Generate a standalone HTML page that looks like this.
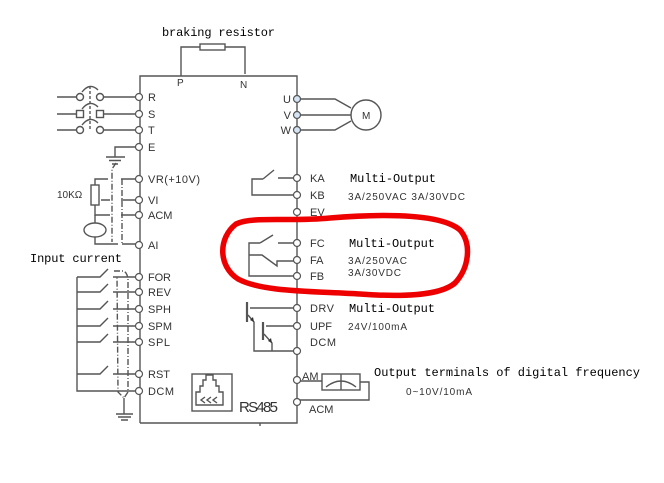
<!DOCTYPE html>
<html><head><meta charset="utf-8"><style>
html,body{margin:0;padding:0;background:#fff;}
svg{display:block;}
.s{font-family:"Liberation Sans",sans-serif;font-size:11px;fill:#333;}
.m{font-family:"Liberation Mono",monospace;font-size:12px;fill:#000;}
.sm{font-family:"Liberation Sans",sans-serif;font-size:10px;fill:#333;}
</style></head><body>
<svg width="664" height="483" viewBox="0 0 664 483" xmlns="http://www.w3.org/2000/svg">
<g fill="none" stroke="#555" stroke-width="1.4">
<!-- main box -->
<path d="M140,423 L140,76 L297,76 L297,423 L140,423"/>
<path d="M260,423 L260,426"/>
<!-- braking resistor -->
<path d="M181,76 L181,47 L200,47 M225,47 L245,47 L245,74"/>
<rect x="200" y="44" width="25" height="6"/>
<!-- R S T inputs -->
<path d="M57,97 L76,97 M104,97 L136,97"/>
<path d="M57,114 L76,114 M104,114 L136,114"/>
<path d="M57,130 L76,130 M104,130 L136,130"/>
<circle cx="80" cy="97" r="3.5"/><circle cx="100" cy="97" r="3.5"/>
<rect x="76.5" y="110.5" width="7" height="7"/><rect x="96.5" y="110.5" width="7" height="7"/>
<circle cx="80" cy="130" r="3.5"/><circle cx="100" cy="130" r="3.5"/>
<path d="M82,92 Q90,82 98,90 M82,109 Q90,99 98,107 M82,125 Q90,115 98,123"/>
<path d="M90,86 L90,130" stroke-dasharray="3,2"/>
<!-- E ground -->
<path d="M136,147 L115,147 L115,157 M106,157 L125,157 M109,160.5 L121,160.5 M112,164 L118,164"/>
<!-- analog -->
<path d="M95,185 L95,179 L108,179 M121,179 L136,179"/>
<rect x="91" y="185" width="8" height="20"/>
<path d="M110,200 L101,200 M121,200 L136,200"/>
<path d="M95,205 L95,215 L110,215 M121,215 L136,215"/>
<path d="M95,215 L95,223"/>
<ellipse cx="95" cy="230" rx="11" ry="7"/>
<path d="M95,237 L95,244 L118,244 M122,244 L136,244"/>
<path d="M116,163 L112,169 L112,242 M122,179 L122,244" stroke-dasharray="6,2,1,2"/>
<!-- digital inputs -->
<path d="M77,277 L77,391 L136,391"/>
<path d="M77,277 L100,277 L108,269 M113,277 L136,277"/>
<path d="M77,292 L100,292 L108,284 M113,292 L136,292"/>
<path d="M77,309 L100,309 L108,301 M113,309 L136,309"/>
<path d="M77,326 L100,326 L108,318 M113,326 L136,326"/>
<path d="M77,342 L100,342 L108,334 M113,342 L136,342"/>
<path d="M77,374 L100,374 L108,366 M113,374 L136,374"/>
<path d="M114,271 L123,271 Q127,272 128,279 L128,392 L124,398 L118,392 L117,276" stroke-dasharray="6,2,1,2"/>
<path d="M124,398 L124,414 M116,414 L133,414 M118,417 L131,417 M121,420 L128,420"/>
<!-- U V W motor -->
<path d="M300,99 L335,99 L351,108 M300,115 L351,115 M300,130 L335,130 L351,121"/>
<circle cx="366" cy="115" r="15"/>
<!-- KA KB -->
<path d="M294,178 L278,178 M263,179 L274,170 M263,179 L252,179 L252,195 L294,195"/>
<!-- FC FA FB -->
<path d="M294,243 L278,243 M260,243 L273,235 M260,243 L249,243 L249,276 L294,276 M249,255 L262,255 L277,266 L277,261 L294,261"/>
<!-- transistors -->
<path d="M250,308 L294,308 M248,315 L254,322 L254,351 L294,351"/>
<path d="M266,326 L294,326 M264,334 L272,343 L272,351"/>
<path d="M247,302 L247,322 M263,322 L263,340" stroke-width="2.2"/>
<!-- AM meter -->
<path d="M300,381 L322,381 M360,382 L369,382 L369,400 L300,400"/>
<rect x="322" y="374" width="38" height="16"/>
<path d="M341,374 L341,390 M326,387 Q341,375 356,387"/>
<!-- RS485 -->
<rect x="192" y="374" width="40" height="37"/>
<path d="M196,405 L196,392 L200,392 L200,386 L203,386 L203,380 L206,380 L206,375 L213,375 L213,380 L216,380 L216,386 L219,386 L219,392 L223,392 L223,405 Z"/>
<path d="M205,397 L201,400 L205,403 M211,397 L207,400 L211,403 M217,397 L213,400 L217,403"/>
</g>
<polygon points="254,322 250,320 253,317" fill="#333"/>
<polygon points="272,343 268,341 271,338" fill="#333"/>
<!-- terminal circles -->
<g fill="#fff" stroke="#555" stroke-width="1.2">
<circle cx="139" cy="97" r="3.5"/><circle cx="139" cy="114" r="3.5"/><circle cx="139" cy="130" r="3.5"/><circle cx="139" cy="147" r="3.5"/>
<circle cx="139" cy="179" r="3.5"/><circle cx="139" cy="200" r="3.5"/><circle cx="139" cy="215" r="3.5"/><circle cx="139" cy="245" r="3.5"/>
<circle cx="139" cy="277" r="3.5"/><circle cx="139" cy="292" r="3.5"/><circle cx="139" cy="309" r="3.5"/><circle cx="139" cy="326" r="3.5"/>
<circle cx="139" cy="342" r="3.5"/><circle cx="139" cy="374" r="3.5"/><circle cx="139" cy="391" r="3.5"/>
<circle cx="297" cy="178" r="3.5"/><circle cx="297" cy="195" r="3.5"/><circle cx="297" cy="212" r="3.5"/>
<circle cx="297" cy="243" r="3.5"/><circle cx="297" cy="260" r="3.5"/><circle cx="297" cy="276" r="3.5"/>
<circle cx="297" cy="308" r="3.5"/><circle cx="297" cy="326" r="3.5"/><circle cx="297" cy="351" r="3.5"/>
<circle cx="297" cy="380" r="3.5"/><circle cx="297" cy="402" r="3.5"/>
</g>
<g fill="#d4e4f4" stroke="#555" stroke-width="1.2">
<circle cx="297" cy="99" r="3.5"/><circle cx="297" cy="115" r="3.5"/><circle cx="297" cy="130" r="3.5"/>
</g>
<!-- text -->
<text class="m" x="162" y="36" textLength="113">braking resistor</text>
<text class="sm" x="177" y="86">P</text>
<text class="sm" x="240" y="88">N</text>
<text class="s" x="148" y="101">R</text>
<text class="s" x="148" y="118">S</text>
<text class="s" x="148" y="134">T</text>
<text class="s" x="148" y="151">E</text>
<text class="s" x="148" y="183" textLength="52">VR(+10V)</text>
<text class="s" x="148" y="204">VI</text>
<text class="s" x="148" y="219">ACM</text>
<text class="s" x="148" y="249">AI</text>
<text class="sm" x="57" y="198">10KΩ</text>
<text class="m" x="30" y="262" textLength="92">Input current</text>
<text class="s" x="148" y="281" textLength="23">FOR</text>
<text class="s" x="148" y="296" textLength="23">REV</text>
<text class="s" x="148" y="313" textLength="23">SPH</text>
<text class="s" x="148" y="330" textLength="24">SPM</text>
<text class="s" x="148" y="346" textLength="22">SPL</text>
<text class="s" x="148" y="378" textLength="22">RST</text>
<text class="s" x="148" y="395" textLength="26">DCM</text>
<text class="s" x="291" y="103" text-anchor="end">U</text>
<text class="s" x="291" y="119" text-anchor="end">V</text>
<text class="s" x="291" y="134" text-anchor="end">W</text>
<text class="sm" x="362" y="119">M</text>
<text class="s" x="310" y="182">KA</text>
<text class="s" x="310" y="199">KB</text>
<text class="s" x="310" y="216">EV</text>
<text class="m" x="350" y="182" textLength="86">Multi-Output</text>
<text class="sm" x="348" y="200" textLength="117">3A/250VAC 3A/30VDC</text>
<text class="s" x="310" y="247">FC</text>
<text class="s" x="310" y="264">FA</text>
<text class="s" x="310" y="280">FB</text>
<text class="m" x="349" y="247" textLength="86">Multi-Output</text>
<text class="sm" x="348" y="264" textLength="59">3A/250VAC</text>
<text class="sm" x="348" y="276" textLength="53">3A/30VDC</text>
<text class="s" x="310" y="312" textLength="24">DRV</text>
<text class="s" x="310" y="330" textLength="22">UPF</text>
<text class="s" x="310" y="346" textLength="26">DCM</text>
<text class="m" x="349" y="312" textLength="86">Multi-Output</text>
<text class="sm" x="348" y="330" textLength="59">24V/100mA</text>
<text class="s" x="302" y="380">AM</text>
<text class="s" x="309" y="413">ACM</text>
<text class="m" x="374" y="376" textLength="266">Output terminals of digital frequency</text>
<text class="sm" x="406" y="395" textLength="66">0~10V/10mA</text>
<text x="239" y="412" textLength="39" style="font-family:'Liberation Sans',sans-serif;font-size:15px;fill:#333">RS485</text>
<!-- red loop -->
<path d="M236,224 C252,216 290,222 330,218 C380,214 440,213 460,230 C472,244 469,268 455,283 C440,296 400,297 360,294 C310,291 262,292 238,279 C218,266 218,238 236,224 Z" fill="none" stroke="#ee0000" stroke-width="5.5"/>
</svg>
</body></html>
